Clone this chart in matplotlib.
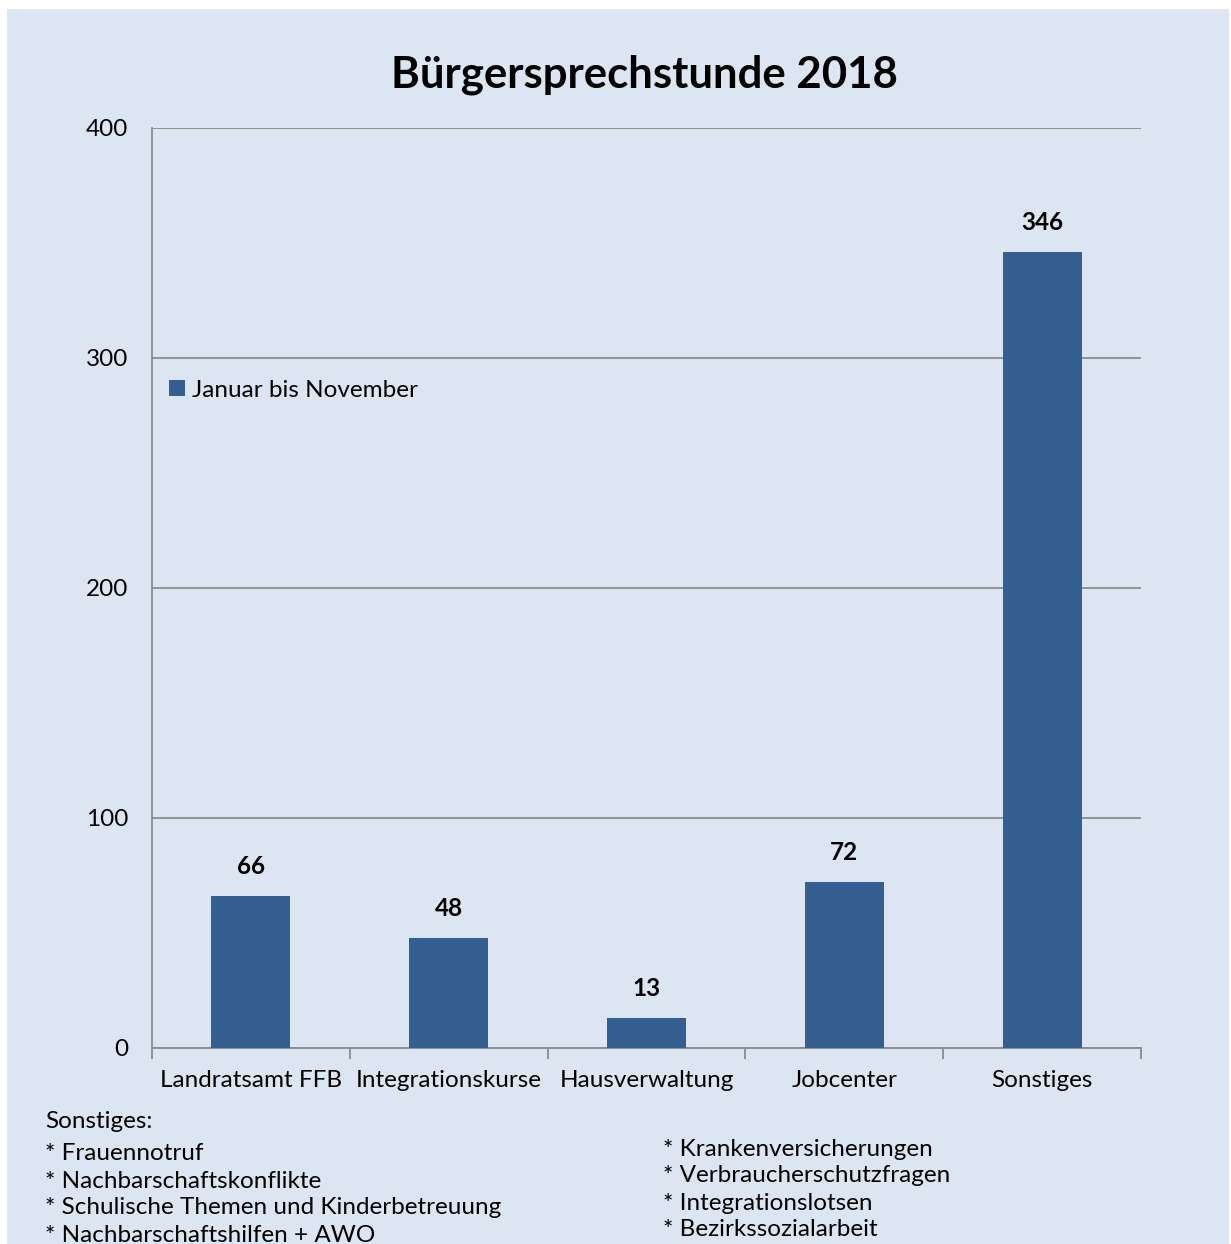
import matplotlib.pyplot as plt
import matplotlib.patches as mpatches
import numpy as np

plt.rcParams['font.family'] = ['Lato', 'DejaVu Sans']

categories = ['Landratsamt FFB', 'Integrationskurse', 'Hausverwaltung', 'Jobcenter', 'Sonstiges']
values = [66, 48, 13, 72, 346]
series_name = 'Januar bis November'
notes_left = ['* Frauennotruf', '* Nachbarschaftskonflikte',
              '* Schulische Themen und Kinderbetreuung', '* Nachbarschaftshilfen + AWO']
notes_right = ['* Krankenversicherungen', '* Verbraucherschutzfragen',
               '* Integrationslotsen', '* Bezirkssozialarbeit']

W, H = 1231, 1244
fs = 17.5
fig = plt.figure(figsize=(W / 100, H / 100), dpi=100, facecolor='white')
bg = mpatches.Rectangle((7 / W, 0), 1 - 9 / W, 1 - 9 / H, transform=fig.transFigure,
                        facecolor='#dce6f2', edgecolor='none', zorder=-10)
fig.patches.append(bg)

ax = fig.add_axes([152 / W, 1 - 1048 / H, (1141 - 152) / W, (1048 - 128) / H])
ax.set_facecolor('none')

x = np.arange(len(categories))
bars = ax.bar(x, values, width=0.4, color='#365f91', label=series_name, zorder=3)
ax.set_xlim(-0.5, len(categories) - 0.5)
ax.set_ylim(0, 400)
ax.set_yticks([0, 100, 200, 300, 400])
ax.yaxis.grid(True, color='#8c8c8c', linewidth=1.3, zorder=0)
ax.set_axisbelow(True)

for s in ['top', 'right']:
    ax.spines[s].set_visible(False)
for s in ['left', 'bottom']:
    ax.spines[s].set_color('#8c8c8c')
    ax.spines[s].set_linewidth(1.3)

ax.set_xticks(np.arange(-0.5, len(categories), 1.0))
ax.set_xticklabels([])
ax.set_xticks(x, minor=True)
ax.set_xticklabels(categories, minor=True, fontsize=fs)
ax.tick_params(axis='x', which='major', length=8, color='#8c8c8c', width=1.3, direction='out')
ax.tick_params(axis='x', which='minor', length=0, pad=16)
ax.tick_params(axis='y', length=0, labelsize=fs, pad=17)

for b, v in zip(bars, values):
    ax.annotate(str(v), (b.get_x() + b.get_width() / 2, v), xytext=(0, 13),
                textcoords='offset points', ha='center', va='bottom',
                fontsize=fs, fontweight='bold')

ax.legend(loc='upper left', bbox_to_anchor=(0.0, 0.745), frameon=False, fontsize=fs,
          handlelength=0.65, handleheight=0.65, handletextpad=0.3, borderaxespad=0.3)

fig.text(644 / W, 1 - 75 / H, 'Bürgersprechstunde 2018', ha='center', va='center',
         fontsize=31.5, fontweight='bold')

fig.text(45 / W, 1 - 1122 / H, 'Sonstiges:', ha='left', va='center', fontsize=fs)
for i, t in enumerate(notes_left):
    fig.text(45 / W, 1 - (1154 + 27 * i) / H, t, ha='left', va='center', fontsize=fs)
for i, t in enumerate(notes_right):
    fig.text(663 / W, 1 - (1149 + 27 * i) / H, t, ha='left', va='center', fontsize=fs)

fig.savefig('out.png', dpi=100, facecolor='white')
